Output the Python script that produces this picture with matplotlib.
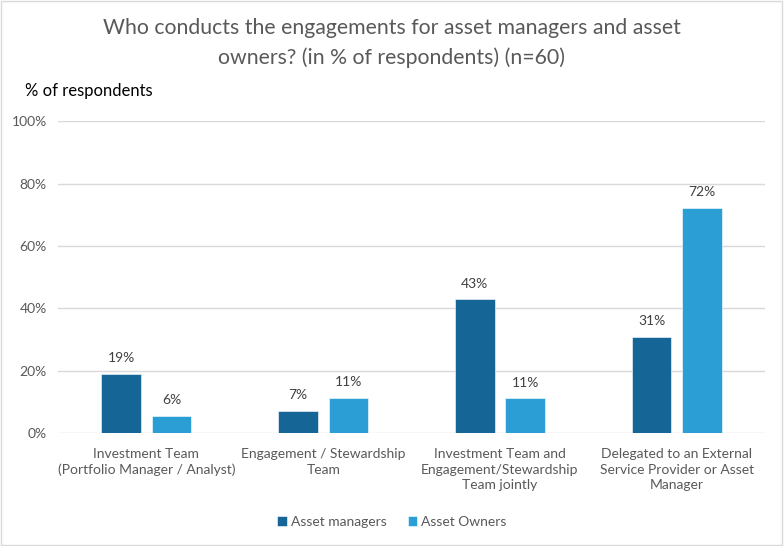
import numpy as np
import matplotlib
matplotlib.use("Agg")
import matplotlib.pyplot as plt
from matplotlib.patches import Rectangle

plt.rcParams["font.family"] = ["Lato", "DejaVu Sans"]

categories = [
    "Investment Team\n(Portfolio Manager / Analyst)",
    "Engagement / Stewardship\nTeam",
    "Investment Team and\nEngagement/Stewardship\nTeam jointly",
    "Delegated to an External\nService Provider or Asset\nManager",
]
asset_managers = [18.9, 7.1, 42.9, 30.9]
asset_owners = [5.6, 11.2, 11.1, 72.2]
labels_managers = ["19%", "7%", "43%", "31%"]
labels_owners = ["6%", "11%", "11%", "72%"]
yticks = [0, 20, 40, 60, 80, 100]

dark = "#156596"
light = "#2b9fd5"
grey = "#595959"

fig = plt.figure(figsize=(7.84, 5.46), dpi=100)
ax = fig.add_axes([0.074, 0.207, 0.902, 0.571])

x = np.arange(len(categories))
w = 0.224
off = 0.143
b1 = ax.bar(x - off, asset_managers, w, color=dark, edgecolor="white", linewidth=0.4, label="Asset managers", zorder=3)
b2 = ax.bar(x + off, asset_owners, w, color=light, edgecolor="white", linewidth=0.4, label="Asset Owners", zorder=3)
ax.bar_label(b1, labels=labels_managers, padding=7, fontsize=10, color="#404040")
ax.bar_label(b2, labels=labels_owners, padding=7, fontsize=10, color="#404040")

ax.set_xlim(-0.5, len(categories) - 0.5)
ax.set_ylim(0, 100)
ax.set_yticks(yticks)
ax.set_yticklabels([f"{t}%" for t in yticks], fontsize=10, color=grey)
ax.set_xticks(x)
ax.set_xticklabels(categories, fontsize=10, color=grey, linespacing=1.35)
ax.tick_params(axis="y", length=0, pad=8)
ax.tick_params(axis="x", length=0, pad=11)
ax.grid(axis="y", color="#d9d9d9", linewidth=1, zorder=0)
for s in ["top", "right", "left", "bottom"]:
    ax.spines[s].set_visible(False)

fig.text(0.5, 0.921, "Who conducts the engagements for asset managers and asset\nowners? (in % of respondents) (n=60)",
         ha="center", va="center", fontsize=15.3, color=grey, linespacing=1.6)
fig.text(0.032, 0.833, "% of respondents", ha="left", va="center", fontsize=12, color="black")

fig.legend(handles=[b1, b2], loc="center", bbox_to_anchor=(0.5, 0.044), ncol=2, frameon=False,
           fontsize=10, labelcolor=grey, handlelength=0.7, handleheight=0.7, handletextpad=0.3, columnspacing=1.5)

fig.patches.append(Rectangle((0.001, 0.001), 0.997, 0.997, transform=fig.transFigure,
                             fill=False, edgecolor="#d9d9d9", linewidth=1))

fig.savefig("out.png", dpi=100)
